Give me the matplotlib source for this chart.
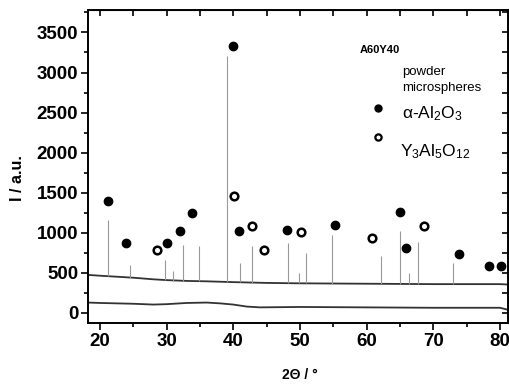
import numpy as np
import matplotlib
matplotlib.use('Agg')
import matplotlib.pyplot as plt
from matplotlib.ticker import MultipleLocator

plt.rcParams['font.family'] = ['Liberation Sans', 'DejaVu Sans']
plt.rcParams['mathtext.fontset'] = 'custom'
plt.rcParams['mathtext.rm'] = 'Liberation Sans'
plt.rcParams['mathtext.it'] = 'Liberation Sans:italic'
plt.rcParams['mathtext.bf'] = 'Liberation Sans:bold'
plt.rcParams['mathtext.default'] = 'regular'

# powder pattern: background line + sharp reflections
powder_x = [18.2, 20, 22, 25, 28, 30, 33, 36, 40, 45, 50, 60, 70, 80, 81.2]
powder_y = [475, 465, 455, 440, 420, 410, 400, 395, 385, 375, 370, 365, 360, 360, 355]

peak_pos = [21.2, 24.5, 29.8, 30.9, 32.5, 34.9, 39.0, 41.0, 42.85, 48.25,
            49.9, 50.9, 54.8, 62.1, 65.0, 66.3, 67.7, 73.0]
peak_top = [1160, 600, 660, 520, 850, 830, 3200, 620, 830, 870,
            500, 750, 975, 710, 1020, 500, 880, 620]
peak_base = [460, 440, 410, 405, 400, 397, 388, 383, 378, 372,
             370, 369, 367, 364, 363, 362, 361, 360]

# microspheres pattern (amorphous)
micro_x = [18.2, 20, 25, 28, 30, 33, 36, 38, 40, 42, 44, 50, 60, 70, 80, 81.2]
micro_y = [130, 125, 115, 105, 110, 125, 130, 120, 105, 80, 70, 75, 70, 65, 65, 40]

# reflection markers
alumina_x = [21.2, 23.9, 30.1, 32.0, 33.75, 40.0, 40.85, 48.1, 55.3, 65.05,
             65.9, 73.9, 78.3, 80.1]
alumina_y = [1400, 870, 870, 1020, 1245, 3325, 1025, 1030, 1100, 1255,
             805, 740, 590, 590]
yag_x = [28.6, 40.1, 42.85, 44.6, 50.1, 60.85, 68.65]
yag_y = [790, 1455, 1080, 790, 1010, 935, 1090]

fig = plt.figure(figsize=(5.1, 3.85), dpi=100)
ax = fig.add_axes([88 / 510, 62 / 385, 420 / 510, 313 / 385])

ax.plot(powder_x, powder_y, color='#333333', lw=1.3)
ax.vlines(peak_pos, peak_base, peak_top, color='#999999', lw=0.8)
ax.plot(micro_x, micro_y, color='#333333', lw=1.3)

ax.plot(alumina_x, alumina_y, 'o', color='black', ms=6, ls='none')
ax.plot(yag_x, yag_y, 'o', mfc='white', mec='black', mew=1.8, ms=5.5, ls='none')

ax.set_xlim(18.2, 81.2)
ax.set_ylim(-125, 3780)
ax.xaxis.set_major_locator(MultipleLocator(10))
ax.xaxis.set_minor_locator(MultipleLocator(5))
ax.yaxis.set_major_locator(MultipleLocator(500))
ax.yaxis.set_minor_locator(MultipleLocator(250))
ax.tick_params(which='both', direction='out', width=1.2, labelsize=13.5)
ax.tick_params(which='major', length=5, pad=2)
ax.tick_params(which='minor', length=3)
for lab in ax.get_xticklabels() + ax.get_yticklabels():
    lab.set_fontweight('bold')
for s in ax.spines.values():
    s.set_linewidth(1.4)

# mirrored ticks on top and right, pointing in
top = ax.secondary_xaxis('top')
top.xaxis.set_major_locator(MultipleLocator(5))
top.tick_params(direction='in', length=4, width=1.2, labeltop=False)
right = ax.secondary_yaxis('right')
right.yaxis.set_major_locator(MultipleLocator(250))
right.tick_params(direction='in', length=4, width=1.2, labelright=False)

fig.text(300 / 510, 1 - 375 / 385, '2Θ / °', ha='center', va='center',
         fontsize=10, fontweight='bold')
fig.text(18 / 510, 1 - 178 / 385, 'I / a.u.', ha='center', va='center',
         rotation=90, fontsize=11.5, fontweight='bold')

fig.text(360 / 510, 1 - 50 / 385, 'A60Y40', ha='left', va='center',
         fontsize=8, fontweight='bold')
fig.text(402 / 510, 1 - 72 / 385, 'powder', ha='left', va='center', fontsize=9.5)
fig.text(402 / 510, 1 - 88 / 385, 'microspheres', ha='left', va='center', fontsize=9.5)
ax.plot([378 / 510], [1 - 108 / 385], 'o', color='black', ms=5,
        transform=fig.transFigure, clip_on=False)
fig.text(402 / 510, 1 - 114 / 385, r'α-Al$_2$O$_3$', ha='left', va='center',
         fontsize=12.5)
ax.plot([378 / 510], [1 - 137 / 385], 'o', mfc='white', mec='black', mew=1.6,
        ms=4.5, transform=fig.transFigure, clip_on=False)
fig.text(400 / 510, 1 - 152 / 385, r'Y$_3$Al$_5$O$_{12}$', ha='left',
         va='center', fontsize=12.5)

fig.savefig('out.png', dpi=100)
